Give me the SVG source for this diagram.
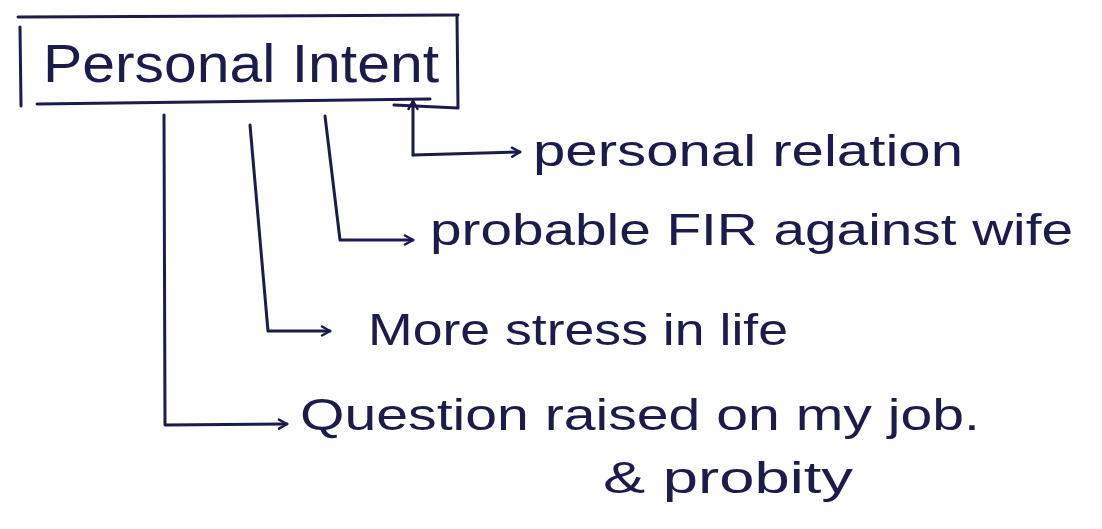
<svg xmlns="http://www.w3.org/2000/svg" width="1102" height="529" viewBox="0 0 1102 529">
  <defs>
    <style>
      .ink{fill:none;stroke:#1b1c4c;stroke-width:3;stroke-linecap:round;stroke-linejoin:round}
      .label{font-family:"Liberation Sans","DejaVu Sans",sans-serif;fill:#1b1c4c}
      .big{font-size:54px}
      .item{font-size:44px}
    </style>
    <marker id="head" viewBox="0 0 12 12" refX="10" refY="6" markerWidth="12" markerHeight="12" markerUnits="userSpaceOnUse" orient="auto">
      <path d="M2,1.5 L10,6 L2,10.5" fill="none" stroke="#1b1c4c" stroke-width="2.5" stroke-linecap="round" stroke-linejoin="round"/>
    </marker>
  </defs>

  <rect width="1102" height="529" fill="#fefefe"/>

  <!-- title box -->
  <g id="personal-intent">
    <path class="ink" d="M18,17 L458,15"/>
    <path class="ink" d="M20,27 L21,106"/>
    <path class="ink" d="M37,104 L430,99"/>
    <path class="ink" d="M457,16 L458,108 L394,105"/>
    <text class="label big" x="43" y="82" textLength="396" lengthAdjust="spacingAndGlyphs">Personal Intent</text>
  </g>

  <!-- branches from the box -->
  <g id="connectors">
    <path class="ink" d="M413,155 L413,101" marker-end="url(#head)"/>
    <path class="ink" d="M413,155 L520,152" marker-end="url(#head)"/>
    <path class="ink" d="M325,116 L340,240 L413,240" marker-end="url(#head)"/>
    <path class="ink" d="M250,125 L268,331 L330,331" marker-end="url(#head)"/>
    <path class="ink" d="M164,115 L165,425 L287,424" marker-end="url(#head)"/>
  </g>

  <g id="relation">
    <text class="label item" x="533" y="166" textLength="430" lengthAdjust="spacingAndGlyphs">personal relation</text>
  </g>

  <g id="fir">
    <text class="label item" x="430" y="245" textLength="643" lengthAdjust="spacingAndGlyphs">probable FIR against wife</text>
  </g>

  <g id="stress">
    <text class="label item" x="368" y="345" textLength="420" lengthAdjust="spacingAndGlyphs">More stress in life</text>
  </g>

  <g id="question">
    <text class="label item" x="300" y="430" textLength="680" lengthAdjust="spacingAndGlyphs">Question raised on my job.</text>
    <text class="label item" x="603" y="493" textLength="250" lengthAdjust="spacingAndGlyphs">&amp; probity</text>
  </g>
</svg>
